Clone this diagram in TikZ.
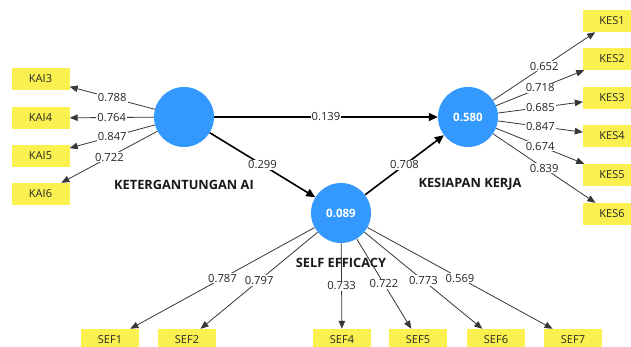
\documentclass[tikz,border=0pt]{standalone}
\usepackage{fontspec}
\setmainfont{Open Sans}
\usetikzlibrary{arrows.meta}
\definecolor{lvblue}{RGB}{51,153,255}
\definecolor{indyellow}{RGB}{250,240,80}
\definecolor{mline}{RGB}{55,55,55}
\begin{document}
\begin{tikzpicture}[x=1pt,y=-1pt,
  latent/.style={circle,fill=lvblue,minimum size=60pt,inner sep=0pt,text=white,font=\fontsize{11.5}{13}\selectfont\bfseries},
  ind/.style={fill=indyellow,minimum width=58pt,minimum height=22pt,inner sep=0pt,font=\fontsize{11}{13}\selectfont,text=black!85},
  lvname/.style={font=\fontsize{12.8}{14}\selectfont\bfseries,text=black!90},
  meas/.style={draw=mline,line width=0.8pt,-{Triangle[length=8pt,width=6.5pt]}},
  struct/.style={draw=black,line width=1.6pt,-{Triangle[length=9pt,width=8pt]}},
  coef/.style={fill=white,inner sep=1pt,font=\fontsize{11.2}{13}\selectfont,text=black!85},
]
\path[use as bounding box,clip] (0,0) rectangle (631,347);
\fill[white] (0,0) rectangle (631,347);

% latent variables
\node[latent] (kai) at (184,117) {};
\node[latent] (kes) at (468,117) {0.580};
\node[latent] (sef) at (341,213) {0.089};
\node[lvname] (kailab) at (184,185) {KETERGANTUNGAN AI};
\node[lvname] (keslab) at (470,184) {KESIAPAN KERJA};
\node[lvname] (seflab) at (341,263) {SELF EFFICACY};

% indicators KAI
\node[ind] (kai3) at (40.5,79) {KAI3};
\node[ind] (kai4) at (40.5,118) {KAI4};
\node[ind] (kai5) at (40.5,156) {KAI5};
\node[ind] (kai6) at (40.5,194) {KAI6};

% indicators KES
\node[ind] (kes1) at (612,21) {KES1};
\node[ind] (kes2) at (612,59) {KES2};
\node[ind] (kes3) at (612,98) {KES3};
\node[ind] (kes4) at (612,136) {KES4};
\node[ind] (kes5) at (612,175) {KES5};
\node[ind] (kes6) at (612,214) {KES6};

% indicators SEF
\node[ind] (sef1) at (110,340) {SEF1};
\node[ind] (sef2) at (187,340) {SEF2};
\node[ind] (sef4) at (342,340) {SEF4};
\node[ind] (sef5) at (418,340) {SEF5};
\node[ind] (sef6) at (496,340) {SEF6};
\node[ind] (sef7) at (573,340) {SEF7};

% outer loadings KAI
\draw[meas] (kai) -- node[coef]{0.788} (kai3);
\draw[meas] (kai) -- node[coef]{0.764} (kai4);
\draw[meas] (kai) -- node[coef]{0.847} (kai5);
\draw[meas] (kai) -- node[coef]{0.722} (kai6);

% outer loadings KES
\draw[meas] (kes) -- node[coef]{0.652} (kes1);
\draw[meas] (kes) -- node[coef]{0.718} (kes2);
\draw[meas] (kes) -- node[coef]{0.685} (kes3);
\draw[meas] (kes) -- node[coef]{0.847} (kes4);
\draw[meas] (kes) -- node[coef]{0.674} (kes5);
\draw[meas] (kes) -- node[coef]{0.839} (kes6);

% outer loadings SEF
\draw[meas] (sef) -- node[coef]{0.787} (sef1);
\draw[meas] (sef) -- node[coef]{0.797} (sef2);
\draw[meas] (sef) -- node[coef]{0.733} (sef4);
\draw[meas] (sef) -- node[coef]{0.722} (sef5);
\draw[meas] (sef) -- node[coef]{0.773} (sef6);
\draw[meas] (sef) -- node[coef]{0.569} (sef7);

% structural paths
\draw[struct] (kai) -- node[coef]{0.139} (kes);
\draw[struct] (kai) -- node[coef]{0.299} (sef);
\draw[struct] (sef) -- node[coef]{0.708} (kes);
\end{tikzpicture}
\end{document}
